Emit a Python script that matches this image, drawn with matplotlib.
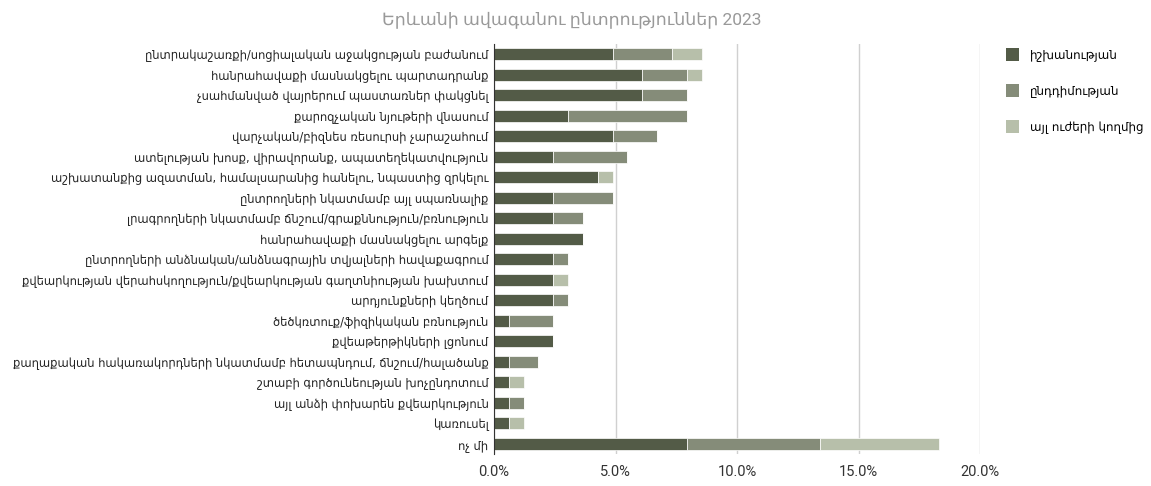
import numpy as np
import matplotlib
matplotlib.use("Agg")
import matplotlib.pyplot as plt
from matplotlib.patches import Patch

categories = [
    "ընտրակաշառքի/սոցիալական աջակցության բաժանում",
    "հանրահավաքի մասնակցելու պարտադրանք",
    "չսահմանված վայրերում պաստառներ փակցնել",
    "քարոզչական նյութերի վնասում",
    "վարչական/բիզնես ռեսուրսի չարաշահում",
    "ատելության խոսք, վիրավորանք, ապատեղեկատվություն",
    "աշխատանքից ազատման, համալսարանից հանելու, նպաստից զրկելու",
    "ընտրողների նկատմամբ այլ սպառնալիք",
    "լրագրողների նկատմամբ ճնշում/գրաքննություն/բռնություն",
    "հանրահավաքի մասնակցելու արգելք",
    "ընտրողների անձնական/անձնագրային տվյալների հավաքագրում",
    "քվեարկության վերահսկողություն/քվեարկության գաղտնիության խախտում",
    "արդյունքների կեղծում",
    "ծեծկռտուք/ֆիզիկական բռնություն",
    "քվեաթերթիկների լցոնում",
    "քաղաքական հակառակորդների նկատմամբ հետապնդում, ճնշում/հալածանք",
    "շտաբի գործունեության խոչընդոտում",
    "այլ անձի փոխարեն քվեարկություն",
    "կառուսել",
    "ոչ մի",
]

series_names = ["իշխանության", "ընդդիմության", "այլ ուժերի կողմից"]

# percent values
government = [4.88, 6.10, 6.10, 3.05, 4.88, 2.44, 4.27, 2.44, 2.44, 3.66,
              2.44, 2.44, 2.44, 0.61, 2.44, 0.61, 0.61, 0.61, 0.61, 7.93]
opposition = [2.44, 1.83, 1.83, 4.88, 1.83, 3.05, 0.00, 2.44, 1.22, 0.00,
              0.61, 0.00, 0.61, 1.83, 0.00, 1.22, 0.00, 0.61, 0.00, 5.49]
other = [1.22, 0.61, 0.00, 0.00, 0.00, 0.00, 0.61, 0.00, 0.00, 0.00,
         0.00, 0.61, 0.00, 0.00, 0.00, 0.00, 0.61, 0.00, 0.61, 4.88]

colors = ["#535b47", "#858c79", "#b7bfaa"]

fig = plt.figure(figsize=(11.51, 4.86), dpi=100)
ax = fig.add_axes([494 / 1151, 1 - 454 / 486, (980 - 494) / 1151, (454 - 44) / 486])

y = np.arange(len(categories))
left = np.zeros(len(categories))
for name, vals, c in zip(series_names, [government, opposition, other], colors):
    vals = np.array(vals)
    ax.barh(y, vals, left=left, height=0.6, color=c, edgecolor="white",
            linewidth=0.5, label=name, zorder=3)
    left += vals

ax.set_ylim(len(categories) - 0.5, -0.5)
ax.set_xlim(0, 20)
ax.set_xticks([0, 5, 10, 15, 20])
ax.set_xticklabels([f"{v:.1f}%" for v in [0, 5, 10, 15, 20]],
                   family=["Roboto", "DejaVu Sans"], fontsize=10.5, color="#333333")
ax.set_yticks(y)
ax.set_yticklabels(categories, family=["DejaVu Sans"], fontsize=8.3, color="#222222")
ax.tick_params(length=0, pad=4)
ax.tick_params(axis="x", pad=8)

ax.grid(axis="x", color="#d0d0d0", linewidth=1, zorder=0)
for s in ["top", "right", "bottom"]:
    ax.spines[s].set_visible(False)
ax.spines["left"].set_color("#333333")
ax.spines["left"].set_zorder(4)

fig.text(0.497, 0.95, "Երևանի ավագանու ընտրություններ 2023",
         family=["Roboto", "DejaVu Sans"], fontsize=12.5, color="#999999", ha="center")

handles = [Patch(facecolor=c, label=n) for c, n in zip(colors, series_names)]
fig.legend(handles=handles, loc="upper left", bbox_to_anchor=(995 / 1151, 1 - 37 / 486),
           frameon=False, prop={"family": "DejaVu Sans", "size": 8.6},
           handlelength=1.1, handleheight=1.3, labelspacing=1.9, handletextpad=0.9)

fig.savefig("out.png", dpi=100)
